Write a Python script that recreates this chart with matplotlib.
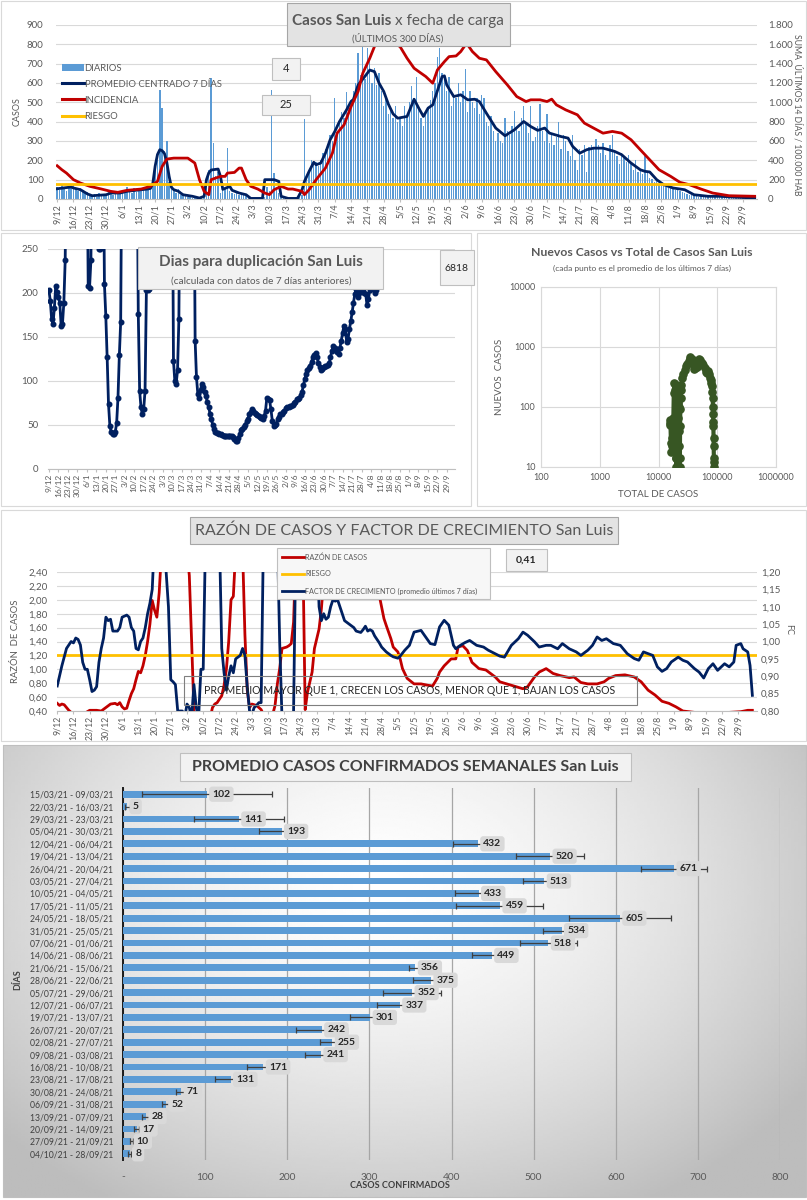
import numpy as np
import matplotlib
matplotlib.use("Agg")
import matplotlib.pyplot as plt
from matplotlib.patches import Rectangle, Patch
from matplotlib.lines import Line2D
from matplotlib.ticker import FuncFormatter, FixedLocator, NullLocator

plt.rcParams['font.family'] = ['Lato', 'DejaVu Sans']

W, H = 807, 1200
TXT = '#595959'
NAVY = '#002060'
RED = '#c00000'
GOLD = '#ffc000'
BLUE = '#5b9bd5'
GREEN = '#375623'
GRID = '#d9d9d9'

# ======================= DATA =======================
DATE_TICKS = ['9/12', '16/12', '23/12', '30/12', '6/1', '13/1', '20/1', '27/1', '3/2', '10/2',
              '17/2', '24/2', '3/3', '10/3', '17/3', '24/3', '31/3', '7/4', '14/4', '21/4',
              '28/4', '5/5', '12/5', '19/5', '26/5', '2/6', '9/6', '16/6', '23/6', '30/6',
              '7/7', '14/7', '21/7', '28/7', '4/8', '11/8', '18/8', '25/8', '1/9', '8/9',
              '15/9', '22/9', '29/9']

# daily cases, 300 days starting 9/12
DIARIOS = [
    60, 45, 70, 50, 40, 65, 55,
    75, 50, 40, 55, 45, 30, 35,
    20, 15, 25, 10, 30, 20, 15,
    25, 35, 30, 20, 40, 30, 25,
    45, 35, 60, 40, 30, 55, 35,
    40, 55, 60, 45, 70, 50, 90,
    160, 200, 564, 470, 250, 298, 90,
    60, 45, 30, 50, 20, 25, 15,
    10, 20, 5, 15, 8, 3, 10,
    20, 110, 150, 625, 289, 120, 140,
    30, 60, 50, 263, 40, 30, 25,
    40, 20, 30, 25, 15, 5, 0,
    0, 5, 0, 3, 0, 10, 60,
    40, 564, 134, 50, 30, 10, 5,
    0, 3, 5, 0, 2, 0, 8,
    20, 413, 120, 140, 200, 180, 190,
    170, 200, 240, 260, 280, 330, 300,
    521, 330, 400, 450, 420, 556, 470,
    480, 560, 600, 757, 640, 797, 620,
    780, 720, 600, 680, 590, 650, 560,
    480, 520, 440, 470, 420, 480, 400,
    420, 380, 480, 430, 500, 585, 520,
    633, 480, 420, 380, 440, 470, 510,
    560, 600, 737, 780, 650, 620, 560,
    633, 480, 540, 520, 600, 500, 560,
    671, 450, 560, 500, 470, 520, 440,
    540, 520, 400, 380, 430, 350, 300,
    340, 300, 290, 420, 350, 330, 380,
    455, 370, 350, 420, 480, 400, 340,
    480, 300, 320, 380, 490, 350, 300,
    440, 290, 330, 280, 320, 400, 260,
    330, 300, 250, 220, 330, 200, 150,
    260, 230, 280, 140, 270, 280, 260,
    310, 280, 240, 290, 230, 200, 280,
    330, 250, 220, 180, 240, 210, 190,
    230, 180, 150, 200, 140, 150, 130,
    220, 140, 110, 105, 90, 100, 80,
    70, 80, 60, 55, 65, 50, 45,
    55, 40, 35, 30, 25, 20, 22,
    18, 15, 12, 20, 10, 14, 12,
    10, 14, 9, 12, 10, 8, 11,
    12, 8, 10, 6, 9, 7, 10,
    5, 8, 4, 6, 3, 4]

# (day, value) 7-day centred average
PROMEDIO_7D = [(0, 53), (6, 62), (7, 57), (10, 48), (13, 26), (15, 17), (21, 22), (23, 31), (27, 31),
               (30, 40), (39, 52), (40, 55), (41, 80), (42, 170), (43, 230), (44, 255), (45, 250),
               (46, 235), (47, 190), (48, 117), (49, 60), (50, 48), (52, 40), (53, 30), (54, 22),
               (58, 14), (61, 5), (63, 14), (64, 100), (65, 135), (66, 150), (69, 155), (70, 117),
               (71, 50), (73, 60), (74, 65), (75, 45), (78, 31), (81, 22), (83, 3), (88, 3), (89, 100),
               (93, 100), (95, 91), (96, 14), (99, 3), (103, 3), (105, 48), (106, 91), (108, 143),
               (110, 190), (111, 177), (113, 186), (115, 237), (117, 306), (119, 349), (121, 400),
               (124, 460), (126, 505), (127, 515), (129, 590), (131, 620), (134, 667), (136, 659),
               (138, 599), (140, 556), (142, 490), (144, 440), (146, 418), (150, 427), (153, 516),
               (155, 470), (157, 427), (159, 470), (161, 487), (163, 560), (165, 633), (166, 637),
               (167, 590), (170, 530), (173, 539), (176, 513), (179, 516), (181, 504), (184, 444),
               (188, 367), (192, 327), (196, 358), (200, 401), (203, 375), (206, 355), (209, 367),
               (211, 341), (216, 323), (219, 315), (221, 272), (224, 237), (227, 255), (230, 263),
               (234, 263), (239, 246), (242, 229), (246, 186), (250, 151), (252, 143), (254, 140),
               (257, 100), (260, 74), (264, 57), (269, 48), (273, 22), (279, 14), (284, 14),
               (290, 10), (299, 5)]

# (day, value) incidence, 14-day sum per 100.000 inhabitants (right axis)
INCIDENCIA = [(0, 344), (2, 303), (4, 268), (7, 200), (10, 165), (14, 131), (19, 103), (23, 79),
              (26, 69), (30, 90), (36, 103), (40, 131), (43, 182), (45, 337), (47, 413), (50, 423),
              (56, 423), (59, 372), (61, 200), (63, 79), (65, 45), (66, 200), (70, 234), (72, 234),
              (73, 268), (76, 275), (78, 320), (79, 320), (81, 200), (83, 131), (86, 103), (89, 62),
              (91, 45), (93, 96), (96, 131), (99, 103), (101, 103), (105, 79), (106, 45), (108, 96),
              (111, 200), (115, 320), (118, 475), (120, 681), (123, 768), (126, 957), (129, 1112),
              (131, 1301), (134, 1456), (136, 1576), (139, 1720), (142, 1760), (144, 1700),
              (146, 1590), (147, 1576), (150, 1456), (153, 1353), (156, 1301), (158, 1267),
              (161, 1198), (163, 1335), (166, 1421), (168, 1473), (171, 1480), (173, 1525),
              (175, 1594), (176, 1594), (178, 1525), (181, 1456), (184, 1439), (188, 1318),
              (193, 1180), (197, 1060), (201, 1008), (203, 1026), (207, 1026), (210, 1008),
              (212, 1033), (214, 974), (218, 922), (223, 871), (226, 785), (230, 733), (234, 681),
              (238, 699), (242, 681), (246, 613), (250, 509), (254, 406), (258, 303), (263, 234),
              (267, 172), (271, 148), (276, 103), (281, 62), (288, 34), (299, 28)]
RIESGO_INC = 150

# doubling time (days); 400 = above the visible range
DUPLICACION = [(0, 203), (1, 191), (2, 170), (3, 165), (4, 183), (5, 208), (6, 201), (7, 195), (8, 189),
               (9, 163), (10, 165), (11, 189), (12, 237), (13, 400), (28, 400), (29, 208), (30, 206),
               (31, 237), (32, 400), (36, 400), (37, 250), (38, 250), (39, 400), (40, 400), (41, 210),
               (42, 174), (43, 127), (44, 74), (45, 49), (46, 42), (47, 40), (48, 40), (49, 42),
               (50, 52), (51, 81), (52, 129), (53, 167), (54, 400), (65, 400), (66, 176), (67, 89),
               (68, 70), (69, 62), (70, 68), (71, 89), (72, 203), (73, 203), (74, 205), (75, 400),
               (91, 400), (92, 123), (93, 100), (94, 97), (95, 112), (96, 170), (97, 400), (107, 400),
               (108, 146), (109, 104), (110, 85), (111, 81), (112, 90), (113, 97), (114, 93), (115, 87),
               (116, 83), (117, 76), (118, 70), (119, 63), (120, 57), (121, 50), (122, 45), (123, 42),
               (124, 41), (125, 41), (126, 40), (127, 40), (128, 39), (129, 38), (130, 37), (131, 37),
               (132, 38), (133, 38), (134, 38), (135, 37), (136, 36), (137, 34), (138, 32), (139, 32),
               (140, 35), (141, 40), (142, 44), (143, 46), (144, 48), (145, 50), (146, 54), (147, 57),
               (148, 62), (149, 65), (150, 68), (151, 66), (152, 64), (153, 62), (154, 61), (155, 60),
               (156, 59), (157, 58), (158, 57), (159, 60), (160, 66), (161, 81), (162, 80), (163, 78),
               (164, 68), (165, 55), (166, 49), (167, 50), (168, 51), (169, 57), (170, 59), (171, 62),
               (172, 63), (173, 65), (174, 66), (175, 69), (176, 71), (177, 71), (178, 72), (179, 72),
               (180, 73), (181, 75), (182, 76), (183, 79), (184, 80), (185, 81), (186, 84), (187, 88),
               (188, 95), (189, 102), (190, 108), (191, 112), (192, 115), (193, 117), (194, 122),
               (195, 127), (196, 130), (197, 132), (198, 127), (199, 121), (200, 116), (201, 112),
               (202, 114), (203, 116), (204, 117), (205, 117), (206, 118), (207, 120), (208, 127),
               (209, 134), (210, 140), (211, 138), (212, 136), (213, 133), (214, 131), (215, 138),
               (216, 146), (217, 155), (218, 163), (219, 159), (220, 144), (221, 148), (222, 159),
               (223, 168), (224, 178), (225, 189), (226, 199), (227, 205), (228, 195), (229, 200),
               (230, 203), (231, 205), (232, 205), (233, 200), (234, 199), (235, 186), (236, 193),
               (237, 203), (238, 400), (239, 400), (240, 205), (241, 200), (242, 203), (243, 400)]
DUPLICACION_ACTUAL = '6818'

# scatter: total cases vs new cases (7-day average)
SCAT_TOTAL = [15500, 15800, 16000, 16300, 16500, 16800, 17100, 17400, 17700, 17900, 18200, 18600,
              19100, 19400, 19600, 19800, 19900, 20000, 20050, 20200, 20500, 21100, 21400, 21500,
              21700, 21900, 22000, 22100, 22300, 22900, 23000, 23100, 23300, 23700, 24200, 24500,
              25500, 26500, 28000, 29500, 31000, 32500, 34000, 35000, 37500, 39500, 40500, 42000,
              44000, 45500, 47000, 49000, 51000, 54000, 58000, 62000, 65000, 68000, 70000, 73000,
              76000, 78000, 79500, 81000, 82500, 83500, 84500, 85000, 85500, 86000, 86500, 87000,
              87500, 88000, 88500]
SCAT_NEW = [55, 60, 50, 25, 18, 22, 30, 40, 52, 65, 170, 250,
            240, 190, 60, 40, 22, 14, 10, 14, 125, 155, 117, 48,
            65, 40, 22, 10, 100, 91, 14, 10, 48, 143, 190, 230,
            300, 350, 420, 480, 520, 590, 640, 671, 620, 500, 430, 440,
            520, 470, 560, 630, 600, 540, 500, 440, 380, 370, 400, 350,
            310, 280, 250, 220, 180, 140, 100, 75, 57, 48, 30, 22,
            14, 12, 10]

# case ratio (left axis) and growth factor (right axis)
RAZON = [(0, .51), (1, .48), (2, .50), (3, .49), (4, .45), (5, .41), (6, .38), (12, .37), (14, .41),
         (17, .41), (19, .40), (21, .45), (23, .50), (25, .51), (26, .49), (27, .52), (28, .46),
         (29, .43), (30, .44), (31, .55), (32, .65), (33, .72), (34, .85), (35, .97), (36, .95),
         (37, 1.05), (38, 1.20), (39, 1.40), (40, 1.65), (41, 1.99), (42, 1.85), (43, 1.75),
         (44, 2.10), (45, 2.70), (56, 2.70), (57, 2.35), (58, 1.40), (59, .40), (60, .30), (66, .30),
         (67, .45), (68, .50), (69, .52), (70, .57), (71, .62), (72, .77), (73, 1.00), (74, 1.40),
         (75, 2.00), (76, 2.05), (77, 2.70), (80, 2.70), (81, 1.50), (82, .70), (83, .45), (84, .50),
         (86, .48), (88, .42), (89, .35), (93, .35), (94, .48), (95, .79), (96, 1.01), (97, 1.30),
         (99, 1.32), (100, 1.34), (101, 1.37), (102, 1.68), (103, 2.70), (106, 2.70), (107, .42),
         (108, .67), (110, .96), (111, 1.30), (113, 1.58), (114, 1.87), (116, 2.70), (137, 2.70),
         (138, 2.40), (139, 2.06), (141, 1.73), (142, 1.63), (144, 1.44), (145, 1.32), (147, 1.25),
         (148, 1.15), (149, 1.01), (151, .87), (154, .79), (157, .79), (160, .77), (162, .76),
         (164, .87), (165, .96), (167, 1.05), (170, 1.15), (172, 1.15), (173, 1.32), (175, 1.34),
         (177, 1.27), (179, 1.10), (182, 1.01), (185, .99), (189, .89), (191, .82), (194, .79),
         (198, .75), (201, .72), (203, .75), (206, .89), (208, .96), (211, 1.01), (214, .94),
         (217, .91), (221, .88), (223, .89), (226, .81), (229, .79), (233, .79), (236, .82),
         (238, .87), (241, .91), (245, .92), (249, .89), (252, .82), (255, .70), (258, .63),
         (261, .54), (264, .51), (267, .46), (270, .40), (275, .38), (285, .37), (295, .39),
         (298, .41), (300, .41)]
RIESGO_RAZON = 1.20
FACTOR_CREC = [(0, .872), (2, .93), (4, .98), (6, 1.00), (7, .996), (8, 1.01), (9, 1.006), (10, .99),
               (11, .94), (12, .92), (13, .92), (14, .89), (15, .856), (16, .86), (17, .87), (18, .94),
               (19, .98), (20, 1.01), (21, 1.07), (22, 1.06), (23, 1.064), (24, 1.03), (26, 1.03),
               (27, 1.04), (28, 1.07), (30, 1.076), (31, 1.07), (32, 1.04), (33, 1.03), (34, .98),
               (35, .976), (36, 1.00), (37, 1.01), (38, 1.04), (39, 1.08), (40, 1.11), (41, 1.15),
               (42, 1.30), (46, 1.30), (47, 1.20), (48, 1.10), (49, .89), (50, .884), (51, .876),
               (52, .80), (54, .80), (55, .78), (56, .82), (57, .81), (58, .78), (59, .876), (60, .81),
               (61, .78), (62, .92), (63, .92), (64, 1.30), (70, 1.30), (71, .98), (72, .91), (73, .86),
               (74, .90), (75, .93), (76, .91), (77, .95), (78, .955), (79, .96), (80, .98), (81, .96),
               (82, .87), (83, .80), (84, .79), (85, .81), (86, .816), (87, .824), (88, .824),
               (89, 1.30), (95, 1.30), (96, 1.0), (97, .78), (101, .78), (102, .80), (103, 1.30),
               (112, 1.30), (113, 1.10), (114, 1.06), (115, 1.08), (116, 1.064), (117, 1.07),
               (118, 1.10), (119, 1.12), (120, 1.116), (121, 1.12), (122, 1.10), (123, 1.08),
               (124, 1.06), (126, 1.05), (128, 1.04), (129, 1.03), (131, 1.026), (132, 1.034),
               (133, 1.044), (134, 1.03), (135, 1.034), (136, 1.03), (137, 1.016), (139, .996),
               (140, .984), (142, .97), (144, .96), (145, .956), (147, .952), (148, .958), (150, .975),
               (152, .989), (154, 1.027), (157, 1.032), (159, 1.013), (161, .994), (163, .991),
               (165, 1.042), (167, 1.061), (169, 1.047), (171, .989), (172, .979), (174, .989),
               (176, .997), (178, 1.003), (181, .989), (184, .984), (186, .975), (189, .965),
               (191, .958), (193, .955), (196, .989), (199, 1.008), (201, 1.027), (203, 1.018),
               (206, .999), (208, .984), (211, .989), (213, .989), (216, .979), (218, .994),
               (221, .979), (224, .970), (226, .960), (229, .975), (231, .989), (233, 1.013),
               (235, 1.003), (237, 1.008), (240, .994), (243, .989), (246, .965), (249, .951),
               (251, .946), (253, .970), (255, .965), (257, .960), (259, .927), (261, .914),
               (263, .922), (265, .941), (268, .955), (270, .946), (272, .941), (275, .922),
               (277, .912), (279, .895), (281, .922), (283, .936), (285, .917), (288, .936),
               (290, .927), (292, .941), (293, .989), (295, .994), (296, .979), (298, .970),
               (299, .931), (300, .845)]
RAZON_ACTUAL = '0,41'

# weekly averages
SEMANAS = ['15/03/21 - 09/03/21', '22/03/21 - 16/03/21', '29/03/21 - 23/03/21', '05/04/21 - 30/03/21',
           '12/04/21 - 06/04/21', '19/04/21 - 13/04/21', '26/04/21 - 20/04/21', '03/05/21 - 27/04/21',
           '10/05/21 - 04/05/21', '17/05/21 - 11/05/21', '24/05/21 - 18/05/21', '31/05/21 - 25/05/21',
           '07/06/21 - 01/06/21', '14/06/21 - 08/06/21', '21/06/21 - 15/06/21', '28/06/21 - 22/06/21',
           '05/07/21 - 29/06/21', '12/07/21 - 06/07/21', '19/07/21 - 13/07/21', '26/07/21 - 20/07/21',
           '02/08/21 - 27/07/21', '09/08/21 - 03/08/21', '16/08/21 - 10/08/21', '23/08/21 - 17/08/21',
           '30/08/21 - 24/08/21', '06/09/21 - 31/08/21', '13/09/21 - 07/09/21', '20/09/21 - 14/09/21',
           '27/09/21 - 21/09/21', '04/10/21 - 28/09/21']
PROM_SEMANAL = [102, 5, 141, 193, 432, 520, 671, 513, 433, 459, 605, 534, 518, 449, 356, 375, 352,
                337, 301, 242, 255, 241, 171, 131, 71, 52, 28, 17, 10, 8]
ERR_SEMANAL = [79, 3, 55, 28, 30, 41, 40, 26, 29, 53, 62, 22, 35, 24, 8, 22, 35, 28, 25, 31, 15, 19,
               20, 19, 7, 4, 5, 3, 2, 2]

# ======================= HELPERS =======================
fig = plt.figure(figsize=(W / 100, H / 100), dpi=100)


def box(x0, y0, x1, y1):
    return [x0 / W, 1 - y1 / H, (x1 - x0) / W, (y1 - y0) / H]


def frect(x0, y0, x1, y1, fc='none', ec=GRID, lw=0.8, z=5):
    fig.add_artist(Rectangle((x0 / W, 1 - y1 / H), (x1 - x0) / W, (y1 - y0) / H,
                             transform=fig.transFigure, facecolor=fc, edgecolor=ec,
                             linewidth=lw, zorder=z))


def ftext(x, y, s, **kw):
    kw.setdefault('zorder', 6)
    kw.setdefault('color', TXT)
    fig.text(x / W, 1 - y / H, s, **kw)


def fline(x0, x1, y, **kw):
    fig.add_artist(Line2D([x0 / W, x1 / W], [1 - y / H, 1 - y / H],
                          transform=fig.transFigure, zorder=6, **kw))


def unzip(pairs):
    return [p[0] for p in pairs], [p[1] for p in pairs]


def style_time_axis(ax, fs=6.5):
    ax.set_xticks([7 * i for i in range(len(DATE_TICKS))])
    ax.set_xticklabels(DATE_TICKS, rotation=90, fontsize=fs, color=TXT)
    ax.tick_params(axis='x', length=2, color='#bfbfbf', pad=1.5)
    for s in ['top', 'right', 'left']:
        ax.spines[s].set_visible(False)
    ax.spines['bottom'].set_color('#bfbfbf')


thou = FuncFormatter(lambda v, p: f"{int(v):,}".replace(',', '.'))
comma2 = FuncFormatter(lambda v, p: f"{v:.2f}".replace('.', ','))

# panel frames
frect(1, 1, 806, 230, z=0.2)
frect(1, 233, 471, 506, z=0.2)
frect(477, 233, 806, 506, z=0.2)
frect(1, 510, 806, 741, z=0.2)

# ======================= PANEL 1 =======================
days = np.arange(len(DIARIOS))
ax1 = fig.add_axes(box(56, 25, 757, 199))
ax1.bar(days, DIARIOS, width=0.6, color=BLUE, zorder=2)
pd_, pv_ = unzip(PROMEDIO_7D)
ax1.plot(pd_, pv_, color=NAVY, lw=2, zorder=4)
ax1.set_xlim(-0.5, 300)
ax1.set_ylim(0, 900)
ax1.set_yticks(range(0, 901, 100))
ax1.tick_params(axis='y', labelsize=7, colors=TXT, length=0, pad=9)
ax1.grid(axis='y', color=GRID, lw=0.8)
ax1.set_axisbelow(True)
style_time_axis(ax1, 6.5)
ax1.set_ylabel('CASOS', fontsize=6.5, color=TXT, labelpad=4)

ax1r = ax1.twinx()
idd, ivv = unzip(INCIDENCIA)
ax1r.plot(idd, ivv, color=RED, lw=2, zorder=3)
ax1r.axhline(RIESGO_INC, color=GOLD, lw=2, zorder=5)
ax1r.set_ylim(0, 1800)
ax1r.set_yticks(range(0, 1801, 200))
ax1r.yaxis.set_major_formatter(thou)
ax1r.tick_params(axis='y', labelsize=7, colors=TXT, length=0, pad=8)
for s in ['top', 'right', 'left', 'bottom']:
    ax1r.spines[s].set_visible(False)
ftext(797, 115, 'SUMA  ÚLTIMOS 14 DÍAS / 100.000 HAB', fontsize=6.2, rotation=270,
      ha='center', va='center')

handles = [Patch(facecolor=BLUE), Line2D([], [], color=NAVY, lw=2.2),
           Line2D([], [], color=RED, lw=2.2), Line2D([], [], color=GOLD, lw=2.2)]
ax1.legend(handles, ['DIARIOS', 'PROMEDIO CENTRADO 7 DÍAS', 'INCIDENCIA', 'RIESGO'],
           loc='upper left', bbox_to_anchor=(0.003, 0.80), frameon=False, fontsize=6.8,
           labelcolor=TXT, handlelength=2.3, handletextpad=0.1, labelspacing=0.75,
           borderaxespad=0)

frect(287, 3, 510, 46, fc='#e3e3e3', ec='#a6a6a6', lw=0.8)
ftext(391, 21, 'Casos San Luis', fontsize=11, fontweight='bold', ha='right', va='center')
ftext(395, 21, 'x fecha de carga', fontsize=11, ha='left', va='center')
ftext(398, 38, '(ÚLTIMOS 300 DÍAS)', fontsize=7, ha='center', va='center')
frect(272, 58, 300, 80, fc='#f2f2f2', ec='#bfbfbf')
ftext(286, 69, '4', fontsize=8, ha='center', va='center', color='#262626')
frect(262, 95, 310, 115, fc='#f2f2f2', ec='#bfbfbf')
ftext(286, 105, '25', fontsize=8, ha='center', va='center', color='#262626')

# ======================= PANEL 2 =======================
ax2 = fig.add_axes(box(48, 249, 455, 469))
dd, dv = unzip(DUPLICACION)
ax2.plot(dd, dv, color=NAVY, lw=2, marker='o', ms=3.3, zorder=3)
ax2.set_xlim(-0.7, 300)
ax2.set_ylim(0, 250)
ax2.set_yticks(range(0, 251, 50))
ax2.tick_params(axis='y', labelsize=7, colors=TXT, length=0, pad=7)
ax2.grid(axis='y', color=GRID, lw=0.8)
ax2.set_axisbelow(True)
style_time_axis(ax2, 6)
frect(138, 247, 383, 289, fc='#f2f2f2', ec='#bfbfbf')
ftext(261, 262, 'Dias para duplicación San Luis', fontsize=11, fontweight='bold',
      ha='center', va='center')
ftext(261, 281, '(calculada con datos de 7 días anteriores)', fontsize=7.2,
      ha='center', va='center')
frect(440, 250, 474, 285, fc='#f2f2f2', ec='#bfbfbf')
ftext(456, 268, DUPLICACION_ACTUAL, fontsize=7.5, ha='center', va='center', color='#262626')

# ======================= PANEL 3 =======================
ax3 = fig.add_axes(box(541, 287, 776, 467))
ax3.plot(SCAT_TOTAL, SCAT_NEW, color=GREEN, lw=3, marker='o', ms=5.2, zorder=3)
ax3.set_xscale('log')
ax3.set_yscale('log')
ax3.set_xlim(100, 1e6)
ax3.set_ylim(10, 1e4)
xt = [100, 1000, 10000, 100000, 1000000]
yt = [10, 100, 1000, 10000]
ax3.xaxis.set_major_locator(FixedLocator(xt))
ax3.yaxis.set_major_locator(FixedLocator(yt))
ax3.xaxis.set_minor_locator(NullLocator())
ax3.yaxis.set_minor_locator(NullLocator())
ax3.set_xticklabels([str(v) for v in xt])
ax3.set_yticklabels([str(v) for v in yt])
ax3.tick_params(labelsize=6.5, colors=TXT, length=0, pad=4)
ax3.grid(True, color=GRID, lw=0.8)
ax3.set_axisbelow(True)
for s in ax3.spines.values():
    s.set_color(GRID)
ax3.set_xlabel('TOTAL DE CASOS', fontsize=7, color=TXT, labelpad=6)
ax3.set_ylabel('NUEVOS  CASOS', fontsize=7, color=TXT, labelpad=4)
ftext(642, 252, 'Nuevos Casos vs Total de Casos San Luis', fontsize=8.8, fontweight='bold',
      ha='center', va='center')
ftext(642, 268, '(cada punto es el promedio de los últimos 7 días)', fontsize=6,
      ha='center', va='center')

# ======================= PANEL 4 =======================
ax4 = fig.add_axes(box(57, 572, 757, 711))
rd, rv = unzip(RAZON)
ax4.plot(rd, rv, color=RED, lw=2, zorder=3)
ax4.axhline(RIESGO_RAZON, color=GOLD, lw=2, zorder=4)
ax4.set_xlim(-0.1, 302)
ax4.set_ylim(0.4, 2.4)
ax4.set_yticks(np.arange(0.4, 2.41, 0.2))
ax4.yaxis.set_major_formatter(comma2)
ax4.tick_params(axis='y', labelsize=7, colors=TXT, length=0, pad=7)
ax4.grid(axis='y', color=GRID, lw=0.8)
ax4.set_axisbelow(True)
style_time_axis(ax4, 6.3)
ax4.set_ylabel('RAZÓN  DE CASOS', fontsize=6.8, color=TXT, labelpad=6)

ax4r = ax4.twinx()
fd, fv = unzip(FACTOR_CREC)
ax4r.plot(fd, fv, color=NAVY, lw=2, zorder=3)
ax4r.set_ylim(0.8, 1.2)
ax4r.set_yticks(np.arange(0.8, 1.201, 0.05))
ax4r.yaxis.set_major_formatter(comma2)
ax4r.tick_params(axis='y', labelsize=7, colors=TXT, length=0, pad=3)
for s in ['top', 'right', 'left', 'bottom']:
    ax4r.spines[s].set_visible(False)
ftext(789, 630, 'FC', fontsize=6.5, rotation=270, ha='center', va='center')

frect(190, 517, 618, 544, fc='#e3e3e3', ec='#a6a6a6')
ftext(404, 531, 'RAZÓN DE CASOS Y FACTOR DE CRECIMIENTO San Luis', fontsize=11.5,
      ha='center', va='center')
frect(277, 548, 490, 599, fc='#f7f7f7', ec='#bfbfbf')
fline(282, 304, 557, color=RED, lw=2)
ftext(305, 557, 'RAZÓN DE CASOS', fontsize=5.2, ha='left', va='center')
fline(282, 304, 574, color=GOLD, lw=2)
ftext(305, 574, 'RIESGO', fontsize=5.2, ha='left', va='center')
fline(282, 304, 591, color=NAVY, lw=2)
ftext(305, 591, 'FACTOR DE CRECIMIENTO (promedio últimos 7 días)', fontsize=5.2,
      ha='left', va='center')
frect(506, 549, 547, 571, fc='#f2f2f2', ec='#bfbfbf')
ftext(526, 560, RAZON_ACTUAL, fontsize=7.5, fontweight='bold', ha='center', va='center',
      color='#262626')
frect(184, 676, 637, 705, fc='none', ec='#7f7f7f', lw=0.8)
ftext(410, 690, 'PROMEDIO MAYOR QUE 1, CRECEN LOS CASOS, MENOR QUE 1, BAJAN LOS CASOS',
      fontsize=7.6, ha='center', va='center', color='#262626')

# ======================= PANEL 5 =======================
axbg = fig.add_axes(box(3, 745, 806, 1197))
ny, nx = 240, 240
yy, xx = np.mgrid[0:1:ny * 1j, 0:1:nx * 1j]
rr = np.sqrt(((xx - 0.47) / 0.75) ** 2 + ((yy - 0.32) / 0.95) ** 2)
grad = np.clip(1.0 - 0.33 * rr ** 1.5, 0.74, 1.0)
axbg.imshow(grad, cmap='gray', vmin=0, vmax=1, aspect='auto', extent=[0, 1, 0, 1],
            interpolation='bilinear')
axbg.set_axis_off()
frect(3, 745, 806, 1197, ec='#bfbfbf', z=0.2)

ax5 = fig.add_axes(box(123, 788, 780, 1160))
ax5.set_zorder(1)
ax5.patch.set_visible(False)
ypos = np.arange(len(SEMANAS))
ax5.barh(ypos, PROM_SEMANAL, height=0.55, color=BLUE, xerr=ERR_SEMANAL, zorder=3,
         error_kw=dict(ecolor='#3f3f3f', elinewidth=0.9, capsize=2, capthick=0.9, zorder=4))
for i, v in enumerate(PROM_SEMANAL):
    ax5.annotate(str(v), xy=(v, i), xytext=(4, 0), textcoords='offset points', ha='left',
                 va='center', fontsize=7.5, fontweight='bold', color='#262626', zorder=6,
                 bbox=dict(boxstyle='round,pad=0.3', fc='#d9d9d9', ec='none'))
ax5.set_xlim(0, 800)
ax5.set_ylim(len(SEMANAS) - 0.5, -0.5)
ax5.set_yticks(ypos)
ax5.set_yticklabels(SEMANAS, fontsize=6.2, color='#404040')
ax5.set_xticks(range(0, 801, 100))
ax5.set_xticklabels(['-'] + [str(v) for v in range(100, 801, 100)], fontsize=7.3, color=TXT)
ax5.tick_params(axis='both', length=0)
ax5.tick_params(axis='x', pad=9)
ax5.tick_params(axis='y', pad=7)
ax5.grid(axis='x', color='#a6a6a6', lw=0.9)
ax5.set_axisbelow(True)
for s in ['top', 'right', 'bottom']:
    ax5.spines[s].set_visible(False)
ax5.spines['left'].set_color('#1a1a1a')
ax5.spines['left'].set_linewidth(1.4)
frect(180, 753, 631, 781, fc='#f2f2f2', ec='#bfbfbf')
ftext(405, 767, 'PROMEDIO CASOS CONFIRMADOS SEMANALES San Luis', fontsize=11.5,
      fontweight='bold', ha='center', va='center', color='#404040')
ftext(400, 1186, 'CASOS CONFIRMADOS', fontsize=6.5, fontweight='bold', ha='center',
      va='center', color='#404040')
ftext(18, 980, 'DÍAS', fontsize=6.5, fontweight='bold', rotation=90, ha='center',
      va='center', color='#404040')

fig.savefig('out.png', dpi=100)
